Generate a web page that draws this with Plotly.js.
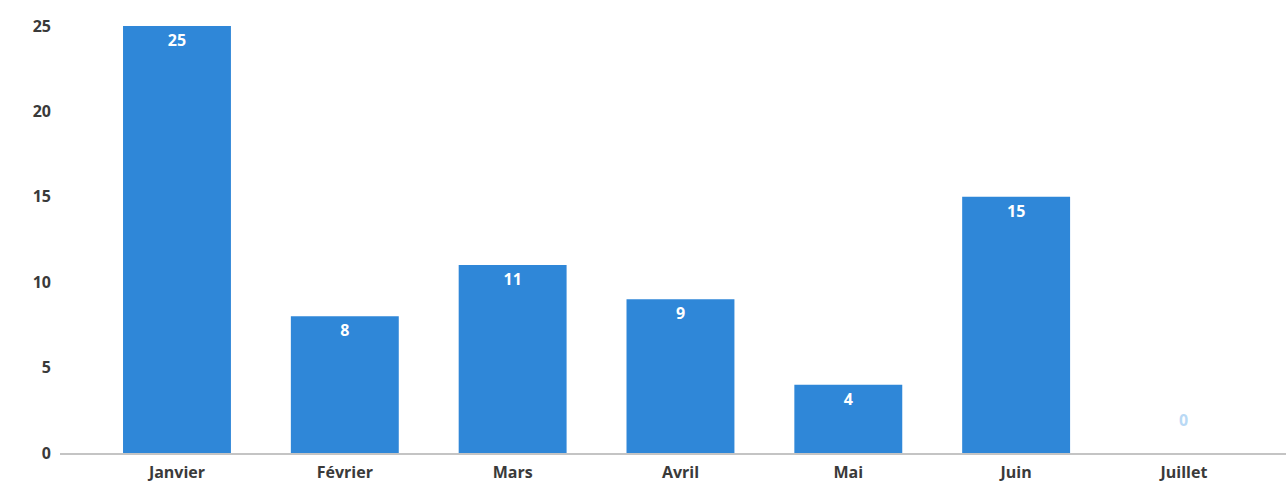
<!DOCTYPE html>
<html>
<head>
<meta charset="utf-8">
<script src="https://cdn.plot.ly/plotly-3.0.1.min.js"></script>
<style>html,body{margin:0;padding:0;background:#fff;}#chart{width:1286px;height:483px;}</style>
</head>
<body>
<div id="chart"></div>
<script>
const months = ["Janvier", "Février", "Mars", "Avril", "Mai", "Juin", "Juillet"];
const values = [25, 8, 11, 9, 4, 15, 0];
const yTicks = [0, 5, 10, 15, 20, 25];

const barColor = "#2f87d8";
const labelColor = "#3a3a3a";
const fontFamily = "'Open Sans', 'DejaVu Sans', sans-serif";

const trace = {
  type: "bar",
  x: months,
  y: values,
  text: values.map(v => String(v)),
  textposition: values.map(v => v > 0 ? "inside" : "none"),
  insidetextanchor: "end",
  textangle: 0,
  insidetextfont: {family: fontFamily, size: 16, color: "#ffffff", weight: 700},
  marker: {color: barColor},
  hoverinfo: "x+y",
  cliponaxis: false
};

const zeroAnnotations = months
  .map((m, i) => ({m, v: values[i]}))
  .filter(d => d.v === 0)
  .map(d => ({
    x: d.m, y: d.v, xref: "x", yref: "y",
    text: String(d.v), showarrow: false, yshift: 33,
    font: {family: fontFamily, size: 16, color: "#b9d9f5", weight: 700}
  }));

const layout = {
  width: 1286, height: 483,
  margin: {l: 60, r: 0, t: 26, b: 30},
  paper_bgcolor: "#ffffff",
  plot_bgcolor: "#ffffff",
  bargap: 0.357,
  showlegend: false,
  font: {family: fontFamily, color: labelColor},
  xaxis: {
    type: "category",
    range: [-0.697, 6.608],
    showgrid: false,
    zeroline: false,
    showline: true,
    linecolor: "#c4c4c4",
    linewidth: 2,
    ticks: "",
    tickfont: {family: fontFamily, size: 16, color: labelColor, weight: 700},
    ticklabelstandoff: 4
  },
  yaxis: {
    range: [0, 25],
    tickvals: yTicks,
    ticktext: yTicks.map(String),
    showgrid: false,
    zeroline: false,
    showline: false,
    ticks: "",
    tickfont: {family: fontFamily, size: 16, color: labelColor, weight: 700},
    ticklabelstandoff: 8
  },
  annotations: zeroAnnotations
};

Plotly.newPlot("chart", [trace], layout, {displayModeBar: false, staticPlot: true});
</script>
</body>
</html>
